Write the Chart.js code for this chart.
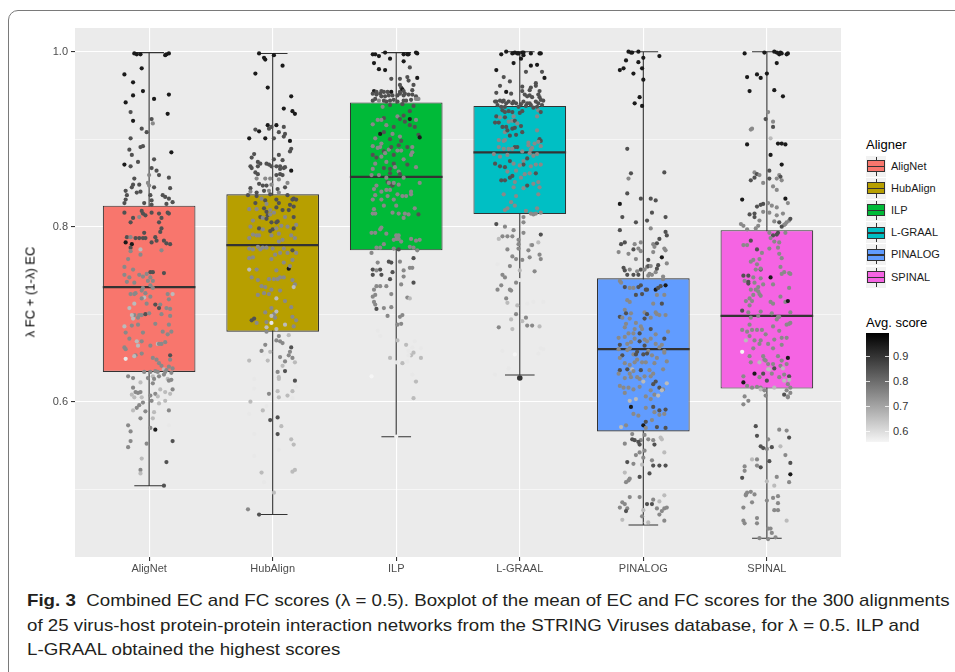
<!DOCTYPE html>
<html>
<head>
<meta charset="utf-8">
<title>Combined EC and FC scores</title>
<script src="https://cdn.jsdelivr.net/npm/chart.js@4.4.0/dist/chart.umd.min.js"></script>
<style>
  html, body { margin: 0; padding: 0; background: #fff; }
  body { width: 955px; height: 672px; position: relative; overflow: hidden; font-family: "Liberation Sans", Arial, sans-serif; }
  #frame { position: absolute; left: 8px; top: 10px; width: 1000px; height: 700px; border: 1.5px solid #7a7a7a; border-radius: 10px; box-sizing: border-box; }
  #chartBox { position: absolute; left: 0; top: 0; width: 845px; height: 580px; }
  #yTitle { position: absolute; left: 30px; top: 292px; transform: translate(-50%, -50%) rotate(-90deg); font-size: 13px; white-space: nowrap; color: #000; }
  .lg-title { position: absolute; left: 866px; font-size: 13px; color: #000; white-space: nowrap; }
  .lg-key { position: absolute; left: 866px; width: 20px; height: 21px; background: #f2f2f2; }
  .lg-key .wh { position: absolute; left: 9.5px; top: 1px; width: 1px; height: 19px; background: #333; }
  .lg-key .bx { position: absolute; left: 1px; top: 4.5px; width: 16px; height: 10px; border: 1px solid #333; }
  .lg-key .md { position: absolute; left: 1px; top: 10px; width: 18px; height: 1.5px; background: #333; }
  .lg-label { position: absolute; left: 891px; font-size: 11px; color: #1a1a1a; white-space: nowrap; line-height: 13px; }
  #colorbar { position: absolute; left: 866px; top: 333px; width: 23px; height: 109px; }
  .cb-tick { position: absolute; width: 4px; height: 1px; background: rgba(255,255,255,0.8); }
  #caption { position: absolute; left: 27px; top: 589px; font-size: 17px; line-height: 24.5px; color: #231f20; }
  #caption div { white-space: nowrap; transform-origin: 0 50%; }
</style>
</head>
<body>
<div id="frame"></div>
<div id="chartBox"><canvas id="myChart"></canvas></div>
<div id="yTitle">λ FC + (1-λ) EC</div>
<div id="legend"></div>
<div id="caption">
  <div id="cap1"><b>Fig. 3</b>&nbsp; Combined EC and FC scores (λ = 0.5). Boxplot of the mean of EC and FC scores for the 300 alignments</div>
  <div id="cap2">of 25 virus-host protein-protein interaction networks from the STRING Viruses database, for λ = 0.5. ILP and</div>
  <div id="cap3">L-GRAAL obtained the highest scores</div>
</div>
<script>
// categories and box statistics
const categories = ["AligNet", "HubAlign", "ILP", "L-GRAAL", "PINALOG", "SPINAL"];
const boxColors = ["#F8766D", "#B79F00", "#00BA38", "#00BFC4", "#619CFF", "#F564E3"];
const whiskerLow = [0.504, 0.471, 0.560, 0.6305, 0.459, 0.444];
const q1 = [0.634, 0.680, 0.773, 0.8145, 0.566, 0.615];
const median = [0.731, 0.779, 0.857, 0.885, 0.660, 0.698];
const q3 = [0.824, 0.837, 0.942, 0.938, 0.741, 0.796];
const whiskerHigh = [0.999, 0.998, 0.999, 1.0, 1.0, 1.0];
const outlierCategory = [4];
const outlierValue = [0.627];

// axis ticks
const yGridValues = [0.5, 0.6, 0.7, 0.8, 0.9, 1.0];
const yTickLabels = [0.6, 0.8, 1.0];
const legendScoreTicks = [0.6, 0.7, 0.8, 0.9];

// jittered points: [jitter offset, value, avg. score]
const pointsAligNet = [
[-0.12,0.998,.95],[-0.10,0.997,.95],[-0.07,0.997,.95],[0.13,0.996,.95],[0.14,0.997,.95],[0.16,0.998,.95],
[-0.20,0.974,.95],[-0.06,0.981,.95],[-0.13,0.965,.95],[-0.05,0.955,.95],[-0.13,0.950,.95],[0.16,0.951,.95],
[-0.19,0.942,.95],[0.04,0.946,.95],[-0.15,0.931,.85],[0.15,0.929,.95],[-0.13,0.921,.95],[0.02,0.923,.85],
[0.03,0.918,.75],[-0.06,0.912,.85],[-0.02,0.908,.85],[-0.15,0.901,.85],[-0.07,0.891,.85],[-0.05,0.892,.85],
[-0.16,0.888,.85],[-0.14,0.882,.85],[0.18,0.885,.95],[0.04,0.877,.85],[-0.20,0.871,.95],[-0.15,0.869,.85],
[-0.09,0.874,.85],[0.02,0.867,.85],[0.06,0.864,.85],[0.08,0.859,.85],[0.16,0.856,.85],[0.00,0.859,.75],
[-0.12,0.855,.85],[-0.13,0.848,.85],[-0.14,0.845,.85],[-0.08,0.848,.85],[-0.01,0.850,.75],[0.00,0.847,.75],
[0.17,0.844,.85],[0.04,0.845,.85],[-0.19,0.841,.85],[-0.18,0.836,.85],[-0.10,0.839,.85],[-0.07,0.840,.85],
[-0.19,0.831,.85],[0.11,0.836,.85],[0.13,0.834,.85],[0.16,0.832,.85],[0.01,0.836,.85],[0.02,0.830,.85],
[-0.20,0.827,.85],[-0.04,0.827,.85],[0.19,0.828,.85],[0.02,0.825,.85],[0.14,0.826,.85],
[-0.20,0.816,.85],[-0.13,0.810,.85],[-0.15,0.805,.85],[-0.06,0.818,.85],[-0.05,0.815,.85],[-0.03,0.813,.85],
[0.02,0.816,.85],[0.08,0.815,.85],[0.15,0.816,.85],[0.16,0.815,.85],[0.10,0.810,.85],[0.08,0.805,.85],
[0.10,0.798,.85],[0.09,0.794,.85],[-0.08,0.811,.75],[-0.18,0.788,.85],[-0.15,0.788,.75],[-0.11,0.787,.85],
[-0.04,0.793,.85],[-0.08,0.787,.85],[-0.05,0.787,.85],[-0.03,0.787,.85],[0.02,0.782,.85],[0.05,0.788,.85],
[0.06,0.784,.85],[0.12,0.784,.85],[0.14,0.781,.85],[0.17,0.780,.85],[-0.19,0.782,.95],[-0.14,0.780,.95],
[-0.15,0.776,.85],[-0.15,0.772,.75],[-0.07,0.768,.75],[0.10,0.773,.75],[-0.07,0.774,.66],[-0.17,0.763,.75],
[-0.20,0.754,.75],[-0.13,0.751,.75],[0.01,0.748,.85],[0.03,0.748,.85],[-0.02,0.746,.75],[-0.05,0.743,.75],
[-0.08,0.745,.75],[-0.16,0.742,.75],[0.12,0.747,.85],[-0.20,0.745,.75],[-0.12,0.736,.75],[-0.01,0.738,.75],
[0.01,0.742,.75],[0.03,0.738,.75],[-0.18,0.737,.75],[0.01,0.733,.75],[-0.05,0.730,.75],[-0.03,0.724,.75],
[0.03,0.730,.75],[-0.06,0.727,.75],[-0.11,0.724,.75],[-0.15,0.723,.75],[-0.12,0.723,.75],[0.15,0.723,.75],
[0.19,0.723,.66],[0.01,0.720,.75],[-0.04,0.719,.66],[-0.06,0.718,.75],[-0.02,0.712,.75],[0.05,0.711,.85],
[0.09,0.711,.75],[-0.16,0.707,.66],[-0.12,0.712,.66],[0.16,0.717,.75],[0.08,0.707,.85],[0.14,0.707,.75],
[0.17,0.706,.75],[-0.12,0.699,.75],[-0.14,0.699,.66],[-0.13,0.695,.66],[-0.09,0.696,.75],[-0.08,0.699,.75],
[-0.06,0.699,.75],[-0.03,0.700,.85],[0.00,0.701,.75],[0.10,0.700,.75],[0.17,0.698,.75],[-0.20,0.686,.66],
[-0.14,0.687,.75],[-0.09,0.688,.75],[0.05,0.689,.75],[0.16,0.688,.75],[0.11,0.680,.75],[0.15,0.677,.75],
[0.18,0.680,.75],[-0.19,0.679,.75],[-0.05,0.679,.75],[-0.16,0.672,.75],[-0.10,0.669,.66],[-0.06,0.669,.75],
[0.01,0.664,.75],[0.07,0.666,.66],[0.08,0.666,.75],[0.10,0.666,.75],[-0.09,0.664,.66],[0.13,0.668,.75],
[-0.20,0.662,.75],[-0.19,0.660,.75],[-0.11,0.653,.75],[-0.06,0.655,.75],[-0.12,0.652,.66],[-0.19,0.649,.58],
[0.03,0.650,.75],[0.06,0.648,.75],[0.17,0.653,.85],[0.17,0.648,.75],[0.08,0.644,.75],[0.10,0.641,.75],
[0.16,0.640,.75],[0.12,0.637,.66],[0.19,0.638,.75],[0.14,0.636,.75],
[-0.04,0.634,.75],[0.01,0.634,.75],[0.05,0.635,.75],[0.07,0.634,.75],[0.13,0.634,.75],[0.18,0.633,.75],
[-0.17,0.629,.75],[-0.13,0.627,.75],[-0.01,0.627,.75],[0.03,0.629,.66],[0.04,0.626,.75],[0.08,0.629,.75],
[0.12,0.631,.75],[0.15,0.626,.66],[0.16,0.624,.75],[0.18,0.625,.75],[-0.07,0.622,.66],[0.03,0.621,.75],
[-0.13,0.616,.75],[0.09,0.614,.66],[0.19,0.614,.75],[-0.11,0.611,.75],[-0.09,0.610,.75],[-0.07,0.611,.75],
[-0.14,0.608,.66],[-0.12,0.605,.66],[-0.06,0.605,.66],[0.01,0.607,.75],[0.05,0.609,.75],[0.07,0.606,.66],
[0.13,0.611,.66],[0.17,0.609,.66],[-0.05,0.599,.75],[0.02,0.601,.75],[0.08,0.598,.66],[0.13,0.601,.66],
[-0.08,0.596,.75],[-0.10,0.593,.75],[-0.03,0.589,.75],[-0.13,0.590,.66],[0.04,0.588,.66],[0.16,0.590,.75],
[-0.07,0.581,.75],[0.03,0.581,.66],[-0.17,0.573,.75],[0.01,0.570,.75],[0.05,0.568,.95],[0.16,0.573,.58],
[-0.15,0.566,.75],[0.19,0.555,.85],[-0.15,0.555,.75],[-0.02,0.552,.75],[-0.17,0.548,.75],[-0.06,0.535,.66],
[0.14,0.531,.85],[-0.07,0.522,.75],[-0.07,0.518,.66],[0.12,0.504,.85]
];
const pointsHubAlign = [
[-0.11,0.998,.95],[-0.07,0.993,.95],[-0.06,0.991,.95],[0.01,0.996,.95],[0.08,0.984,.95],[-0.14,0.975,.95],
[-0.04,0.959,.95],[0.15,0.949,.95],[0.09,0.935,.95],[0.16,0.932,.95],[0.18,0.929,.95],[-0.04,0.916,.95],
[0.03,0.916,.95],[-0.01,0.914,.85],[-0.03,0.912,.85],[-0.14,0.911,.85],[-0.11,0.909,.95],[0.09,0.914,.85],
[0.05,0.908,.85],[0.10,0.906,.85],[0.09,0.903,.85],[-0.19,0.901,.95],[-0.06,0.901,.95],[0.14,0.898,.95],
[0.01,0.901,.85],[0.15,0.889,.85],[0.14,0.886,.85],[-0.15,0.883,.85],[0.05,0.882,.85],[-0.17,0.879,.85],
[0.08,0.876,.85],[0.01,0.877,.85],[-0.12,0.874,.85],[-0.10,0.872,.85],[-0.05,0.872,.85],[-0.03,0.871,.85],
[-0.01,0.869,.85],[-0.18,0.869,.85],[-0.17,0.867,.85],[-0.12,0.869,.85],[0.03,0.869,.85],[0.06,0.869,.85],
[0.10,0.868,.85],[0.06,0.866,.85],[0.09,0.867,.85],[0.15,0.864,.95],[-0.14,0.862,.85],[-0.12,0.860,.85],
[0.03,0.859,.85],[0.06,0.860,.85],[0.08,0.859,.85],[-0.13,0.855,.75],[-0.06,0.855,.75],[-0.02,0.855,.75],
[0.05,0.854,.75],[0.12,0.850,.75],[-0.18,0.844,.85],[-0.11,0.849,.85],[-0.08,0.847,.85],[-0.05,0.847,.85],
[-0.01,0.848,.75],[0.04,0.843,.85],[0.10,0.845,.85],[-0.18,0.840,.75],[-0.13,0.839,.85],[-0.07,0.841,.85],
[-0.03,0.841,.75],[0.05,0.839,.75],
[-0.20,0.836,.85],[-0.13,0.835,.85],[-0.09,0.832,.75],[-0.02,0.837,.85],[0.12,0.836,.85],[0.16,0.831,.85],
[0.17,0.832,.85],[0.19,0.831,.85],[-0.14,0.827,.85],[-0.06,0.830,.85],[-0.05,0.826,.75],[0.03,0.831,.85],
[0.05,0.827,.85],[0.14,0.825,.85],[0.17,0.823,.85],[-0.19,0.820,.75],[-0.13,0.820,.75],[-0.07,0.821,.85],
[-0.05,0.817,.85],[-0.02,0.819,.75],[0.01,0.816,.75],[0.03,0.822,.85],[0.08,0.819,.85],[0.13,0.819,.85],
[-0.04,0.813,.85],[-0.02,0.814,.75],[-0.10,0.811,.85],[-0.08,0.810,.75],[-0.05,0.809,.85],[-0.01,0.805,.85],
[0.03,0.805,.85],[0.04,0.806,.85],[0.07,0.801,.75],[0.10,0.811,.75],[0.17,0.811,.85],[-0.16,0.807,.75],
[0.19,0.802,.75],[-0.18,0.800,.75],[-0.11,0.798,.85],[-0.08,0.797,.75],[-0.02,0.795,.85],[0.00,0.797,.85],
[0.03,0.798,.75],[0.12,0.800,.75],[0.17,0.798,.85],[-0.13,0.790,.75],[-0.16,0.791,.75],[-0.11,0.790,.75],
[-0.01,0.790,.75],[0.05,0.792,.75],[0.15,0.790,.75],[-0.19,0.787,.75],[0.18,0.787,.75],[0.05,0.783,.75],
[0.08,0.785,.75],[-0.12,0.777,.75],[-0.16,0.774,.75],[-0.10,0.774,.75],[0.00,0.775,.75],[-0.19,0.775,.75],
[-0.08,0.776,.75],[-0.05,0.776,.75],[0.02,0.768,.75],[0.06,0.770,.75],[0.09,0.775,.75],[0.12,0.770,.75],
[0.19,0.770,.75],[0.16,0.773,.85],[-0.16,0.765,.75],[-0.19,0.764,.75],[-0.01,0.763,.75],[0.09,0.759,.75],
[0.16,0.762,.75],[0.13,0.752,.95],[0.14,0.755,.75],[-0.19,0.751,.66],[-0.13,0.751,.75],[0.03,0.750,.75],
[-0.17,0.742,.75],[-0.12,0.739,.75],[-0.03,0.740,.75],[0.01,0.740,.75],[0.04,0.740,.75],[0.06,0.742,.75],
[0.09,0.742,.75],[0.16,0.739,.75],[-0.09,0.732,.75],[-0.06,0.731,.75],[0.18,0.734,.75],[0.17,0.731,.66],
[-0.01,0.728,.75],[0.06,0.727,.75],[-0.12,0.722,.75],[-0.07,0.724,.75],[-0.03,0.723,.75],[0.10,0.715,.75],
[0.03,0.718,.66],[-0.06,0.702,.75],[-0.01,0.707,.75],[0.01,0.700,.75],[0.03,0.703,.66],[-0.01,0.698,.66],
[0.02,0.696,.75],[0.15,0.708,.75],[0.16,0.697,.75],[-0.17,0.693,.85],[-0.15,0.695,.85],[-0.13,0.690,.75],
[-0.05,0.691,.75],[-0.01,0.690,.58],[0.10,0.688,.66],[0.19,0.693,.75],[0.17,0.686,.75],[-0.05,0.685,.66],
[-0.05,0.680,.75],[0.03,0.683,.66],[0.13,0.676,.66],[0.05,0.675,.75],[0.03,0.670,.75],[0.06,0.669,.75],
[0.08,0.667,.75],[-0.06,0.665,.75],[0.15,0.662,.85],[-0.09,0.658,.75],[-0.07,0.654,.58],[-0.02,0.657,.66],
[0.14,0.657,.75],[0.13,0.653,.75],[0.16,0.650,.75],[-0.19,0.647,.66],[-0.04,0.647,.66],[0.06,0.651,.75],
[0.10,0.646,.75],[0.18,0.645,.66],[0.08,0.641,.66],[0.04,0.634,.75],[0.10,0.635,.85],[0.18,0.624,.85],
[0.05,0.628,.66],[0.05,0.626,.66],[-0.15,0.626,.58],[-0.15,0.615,.58],[0.19,0.617,.58],[0.04,0.612,.66],
[0.16,0.612,.66],[0.12,0.607,.66],[-0.18,0.600,.66],[-0.03,0.609,.75],[0.05,0.605,.66],[0.16,0.604,.58],
[-0.05,0.595,.58],[-0.08,0.590,.66],[-0.19,0.586,.58],[-0.02,0.579,.85],[0.04,0.582,.85],[0.07,0.572,.66],
[0.04,0.563,.85],[-0.15,0.563,.58],[0.15,0.557,.66],[0.17,0.551,.66],[0.05,0.545,.58],[-0.15,0.538,.58],
[-0.09,0.519,.66],[0.16,0.520,.66],[0.18,0.522,.66],[-0.07,0.508,.58],[0.01,0.496,.66],[-0.20,0.477,.75],
[-0.11,0.471,.85]
];
const pointsILP = [
[-0.19,0.997,.95],[-0.17,0.997,.95],[-0.14,0.995,.95],[-0.09,0.999,.95],[0.06,0.997,.95],[0.09,0.997,.95],
[0.10,0.997,.95],[0.16,0.999,.95],[0.17,0.998,.95],[-0.05,0.992,.95],[0.06,0.989,.95],[-0.18,0.987,.95],
[-0.14,0.980,.95],[-0.09,0.979,.95],[0.11,0.982,.85],[-0.04,0.969,.85],[0.17,0.970,.95],[0.03,0.969,.85],
[0.09,0.971,.85],[0.10,0.967,.85],[0.14,0.962,.85],[0.03,0.962,.85],[0.04,0.959,.85],[0.13,0.956,.85],
[-0.18,0.955,.95],[-0.16,0.954,.85],[-0.12,0.955,.85],[-0.10,0.954,.85],[-0.07,0.954,.85],[-0.04,0.954,.95],
[0.03,0.954,.85],[0.05,0.957,.95],[0.06,0.955,.85],[0.07,0.952,.85],[-0.19,0.952,.85],[-0.16,0.951,.85],
[-0.13,0.952,.85],[-0.12,0.949,.85],[-0.09,0.949,.85],[-0.06,0.950,.85],[-0.03,0.950,.85],[0.01,0.950,.85],
[0.03,0.952,.85],[0.06,0.950,.85],[0.10,0.951,.85],[0.13,0.951,.85],[0.16,0.949,.85],[0.17,0.946,.75],
[-0.19,0.944,.85],[-0.17,0.946,.85],[-0.14,0.944,.75],[-0.10,0.944,.85],[-0.08,0.943,.85],[-0.05,0.944,.85],
[-0.02,0.945,.85],[0.01,0.943,.85],[0.06,0.944,.85],[0.08,0.944,.85],[0.12,0.945,.85],[0.16,0.946,.75],
[0.18,0.946,.75],
[-0.11,0.937,.75],[-0.05,0.939,.85],[0.05,0.940,.85],[0.14,0.938,.85],[0.11,0.932,.85],[0.06,0.927,.85],
[0.01,0.926,.75],[-0.10,0.924,.85],[-0.15,0.922,.75],[-0.19,0.917,.75],[-0.12,0.922,.75],[-0.08,0.916,.75],
[-0.02,0.914,.85],[0.03,0.923,.85],[0.07,0.920,.85],[0.11,0.923,.95],[0.11,0.916,.85],[0.16,0.922,.75],
[0.15,0.914,.85],[-0.03,0.906,.75],[-0.13,0.906,.95],[-0.10,0.908,.85],[-0.05,0.900,.85],[-0.17,0.901,.75],
[0.03,0.903,.75],[0.04,0.898,.85],[0.18,0.905,.85],[0.19,0.902,.95],[-0.12,0.895,.75],[-0.19,0.892,.75],
[-0.15,0.890,.75],[-0.13,0.891,.75],[-0.06,0.888,.75],[-0.04,0.891,.85],[0.02,0.893,.85],[0.09,0.891,.85],
[0.13,0.891,.75],[-0.10,0.886,.85],[0.01,0.887,.75],[0.04,0.887,.75],[0.13,0.885,.75],[-0.19,0.882,.85],
[-0.16,0.879,.85],[-0.12,0.880,.75],[-0.09,0.884,.75],[-0.02,0.882,.85],[0.12,0.882,.75],[0.06,0.877,.75],
[-0.08,0.874,.75],[0.09,0.871,.85],[0.16,0.868,.75],[-0.17,0.872,.75],[-0.02,0.872,.85],[-0.01,0.868,.75],
[-0.05,0.866,.85],[-0.10,0.867,.85],[-0.19,0.866,.75],[0.02,0.863,.75],[-0.05,0.861,.85],[0.03,0.860,.85],
[-0.20,0.859,.75],[-0.14,0.859,.75],[-0.08,0.856,.75],[0.06,0.856,.75],[-0.07,0.851,.85],[-0.05,0.849,.85],
[-0.03,0.847,.85],[-0.06,0.850,.75],[-0.02,0.850,.75],[0.02,0.848,.75],[0.19,0.850,.75],[-0.16,0.847,.75],
[-0.18,0.843,.75],[-0.12,0.840,.75],[-0.08,0.842,.75],[-0.05,0.842,.75],[0.05,0.835,.75],[0.08,0.835,.75],
[0.12,0.840,.75],[0.12,0.837,.75],[-0.17,0.836,.75],[-0.19,0.831,.75],[-0.12,0.831,.75],[-0.07,0.835,.75],
[-0.02,0.831,.75],[0.01,0.837,.75],[-0.10,0.824,.75],[0.00,0.824,.75],[-0.18,0.820,.75],[-0.19,0.815,.75],
[-0.17,0.815,.75],[-0.03,0.816,.75],[0.07,0.815,.75],[0.10,0.814,.75],[0.15,0.821,.75],[0.06,0.810,.75],
[0.18,0.814,.85],[0.02,0.815,.75],[-0.12,0.799,.75],[-0.13,0.797,.75],[-0.20,0.793,.75],[-0.17,0.793,.75],
[-0.08,0.792,.75],[0.00,0.790,.75],[0.02,0.790,.75],[0.02,0.786,.75],[0.00,0.786,.75],[-0.02,0.785,.75],
[0.04,0.783,.75],[0.12,0.786,.75],[0.19,0.785,.75],[0.16,0.784,.75],[-0.10,0.780,.75],[-0.16,0.776,.75],
[-0.13,0.776,.75],[-0.02,0.775,.75],[0.02,0.774,.85],[0.11,0.777,.75],[0.14,0.776,.75],[0.17,0.773,.75],
[-0.20,0.770,.75],[-0.15,0.759,.75],[-0.06,0.760,.85],[-0.04,0.759,.85],[-0.03,0.748,.85],[0.03,0.760,.75],
[0.06,0.750,.75],[0.11,0.753,.75],[0.13,0.753,.75],[0.14,0.764,.85],[-0.19,0.751,.85],[-0.16,0.750,.75],
[-0.13,0.751,.85],[-0.19,0.745,.85],[-0.12,0.745,.85],[-0.05,0.740,.85],[0.06,0.743,.75],[-0.16,0.732,.75],
[-0.13,0.732,.75],[-0.08,0.732,.75],[0.04,0.734,.75],[0.14,0.736,.85],[-0.18,0.728,.75],[-0.17,0.722,.75],
[-0.19,0.720,.75],[-0.04,0.723,.75],[0.09,0.719,.75],[0.11,0.718,.66],[-0.18,0.714,.75],[-0.17,0.711,.75],
[-0.16,0.706,.85],[-0.10,0.707,.75],[-0.04,0.708,.75],[0.03,0.697,.75],[0.05,0.699,.75],[-0.07,0.698,.75],
[0.01,0.688,.75],[0.04,0.689,.75],[-0.15,0.681,.58],[-0.13,0.675,.58],[0.01,0.670,.66],[0.08,0.665,.66],
[0.15,0.669,.58],[0.13,0.662,.58],[0.10,0.658,.58],[0.14,0.656,.66],[0.12,0.653,.66],[0.10,0.653,.58],
[0.20,0.661,.58],[0.20,0.650,.66],[-0.05,0.650,.66],[0.00,0.645,.58],[0.05,0.644,.66],[0.09,0.646,.58],
[-0.20,0.629,.55],[0.13,0.631,.58],[0.15,0.623,.58],[0.16,0.623,.66],[0.14,0.604,.66],[0.00,0.560,.56]
];
const pointsLGRAAL = [
[-0.15,0.997,.95],[-0.11,1.000,.95],[-0.06,0.998,.95],[-0.04,0.999,.95],[-0.02,0.998,.95],[-0.01,0.998,.95],
[0.02,0.999,.95],[0.03,0.999,.95],[0.03,0.996,.95],[0.09,0.998,.95],[0.16,0.998,.95],[0.17,0.998,.95],
[0.01,0.992,.95],[-0.05,0.987,.95],[0.09,0.984,.95],[0.14,0.985,.95],[0.18,0.977,.85],[-0.19,0.979,.95],
[0.05,0.977,.85],[-0.13,0.971,.85],[-0.08,0.966,.85],[0.20,0.970,.95],[0.13,0.964,.85],[0.13,0.961,.85],
[-0.16,0.961,.85],[0.02,0.960,.85],[0.09,0.959,.85],[0.16,0.955,.85],[-0.19,0.953,.85],[-0.11,0.954,.95],
[-0.07,0.952,.85],[0.02,0.955,.85],[0.08,0.956,.85],[0.04,0.951,.85],[0.06,0.949,.85],[0.08,0.950,.85],
[0.10,0.948,.85],[0.15,0.951,.85],[0.16,0.948,.85],[-0.20,0.943,.85],[-0.19,0.943,.85],[-0.16,0.944,.85],
[-0.14,0.943,.85],[-0.13,0.944,.85],[-0.11,0.941,.85],[-0.09,0.943,.85],[-0.06,0.941,.85],[-0.05,0.943,.85],
[-0.03,0.941,.85],[0.01,0.940,.85],[0.03,0.943,.85],[0.06,0.941,.85],[0.08,0.941,.85],[0.09,0.939,.85],
[0.13,0.943,.85],[0.15,0.941,.85],[0.17,0.945,.85],[0.19,0.944,.85],[-0.18,0.939,.85],[-0.15,0.937,.85],
[-0.12,0.937,.85],[-0.01,0.937,.85],[0.05,0.938,.85],[0.11,0.936,.85],[0.14,0.937,.85],[0.18,0.939,.85],
[-0.14,0.933,.85],[-0.12,0.931,.85],[-0.09,0.932,.85],[-0.06,0.931,.85],[0.00,0.930,.85],[0.02,0.932,.85],
[0.15,0.933,.75],[0.17,0.931,.85],[-0.19,0.926,.85],[-0.16,0.925,.75],[-0.12,0.925,.85],[-0.05,0.926,.75],
[0.14,0.926,.75],[-0.20,0.919,.85],[-0.17,0.919,.85],[-0.09,0.920,.75],[-0.06,0.921,.75],[-0.04,0.921,.85],
[-0.02,0.918,.75],[-0.14,0.914,.85],[-0.11,0.914,.85],[-0.06,0.912,.85],[-0.04,0.913,.85],[0.01,0.915,.85],
[-0.12,0.908,.75],[-0.10,0.910,.85],[0.02,0.908,.85],[0.14,0.910,.75],[-0.08,0.904,.85],[-0.03,0.905,.85],
[0.16,0.900,.85],[0.17,0.898,.85],[-0.17,0.899,.75],[-0.13,0.898,.75],[-0.12,0.899,.75],[0.15,0.897,.75],
[0.07,0.896,.75],[0.12,0.895,.75],[-0.17,0.891,.75],[-0.04,0.891,.85],[-0.02,0.891,.85],[0.07,0.893,.75],
[0.10,0.890,.75],[0.17,0.892,.75],[-0.13,0.889,.75],[-0.09,0.889,.75],[-0.06,0.889,.75],[0.09,0.888,.75],
[0.02,0.886,.75],[-0.21,0.883,.75],[-0.16,0.880,.75],[-0.10,0.882,.75],[0.08,0.884,.75],[0.11,0.881,.75],
[0.14,0.883,.75],[0.03,0.875,.75],[0.06,0.878,.85],[-0.08,0.875,.85],[-0.05,0.872,.75],[0.03,0.871,.85],
[-0.20,0.872,.85],[-0.16,0.869,.85],[0.13,0.871,.75],[-0.12,0.868,.85],[0.00,0.870,.75],[0.09,0.869,.75],
[0.17,0.871,.75],[-0.03,0.864,.75],[-0.10,0.863,.75],[-0.06,0.858,.85],[0.04,0.860,.75],[0.08,0.861,.75],
[0.13,0.861,.85],[-0.15,0.853,.85],[-0.12,0.853,.85],[-0.08,0.856,.85],[0.01,0.856,.75],[-0.04,0.851,.75],
[0.11,0.849,.75],[0.06,0.847,.85],[0.15,0.851,.75],[-0.05,0.845,.75],[0.03,0.844,.75],[0.16,0.845,.75],
[-0.13,0.837,.75],[-0.03,0.835,.75],[0.15,0.837,.75],[-0.07,0.828,.75],[-0.04,0.824,.75],[-0.10,0.821,.75],
[-0.12,0.819,.75],[0.14,0.821,.75],[0.05,0.818,.75],[0.09,0.815,.75],[0.11,0.814,.75],[0.13,0.815,.75],
[0.17,0.816,.75],
[0.03,0.811,.75],[0.03,0.805,.75],[-0.19,0.803,.85],[-0.12,0.800,.75],[-0.05,0.796,.75],[0.03,0.793,.75],
[0.17,0.791,.85],[-0.17,0.786,.66],[-0.14,0.789,.75],[-0.10,0.789,.75],[-0.06,0.789,.75],[-0.01,0.785,.75],
[-0.01,0.780,.75],[0.09,0.779,.66],[0.10,0.779,.75],[0.15,0.782,.66],[0.07,0.773,.75],[-0.10,0.774,.75],
[-0.01,0.775,.75],[-0.06,0.766,.75],[-0.03,0.763,.75],[0.08,0.765,.75],[0.16,0.768,.75],[0.17,0.763,.75],
[0.02,0.762,.75],[-0.18,0.757,.58],[-0.08,0.755,.75],[0.00,0.750,.66],[0.12,0.749,.75],[-0.14,0.745,.75],
[-0.12,0.742,.75],[-0.03,0.736,.75],[0.00,0.739,.58],[-0.15,0.733,.75],[-0.18,0.728,.75],[-0.08,0.728,.75],
[-0.07,0.727,.75],[-0.11,0.718,.75],[-0.10,0.713,.66],[0.06,0.712,.58],[0.11,0.714,.58],[0.19,0.714,.58],
[-0.02,0.710,.66],[0.05,0.696,.75],[-0.03,0.700,.75],[-0.07,0.694,.66],[0.02,0.692,.66],[0.06,0.687,.75],
[0.10,0.687,.75],[0.16,0.686,.66],[-0.17,0.685,.75],[-0.06,0.683,.66],[-0.14,0.658,.58],[-0.04,0.654,.55],
[0.17,0.661,.58],[0.19,0.660,.58],[0.15,0.655,.58],[-0.09,0.638,.58],[-0.20,0.631,.58]
];
const pointsPINALOG = [
[-0.12,1.000,.95],[-0.10,0.999,.95],[-0.09,0.999,.95],[-0.04,1.000,.95],[0.13,0.995,.95],[0.00,0.993,.95],
[-0.14,0.990,.95],[-0.04,0.988,.95],[-0.19,0.979,.95],[-0.16,0.981,.95],[-0.01,0.981,.95],[-0.08,0.975,.95],
[0.00,0.968,.95],[-0.03,0.948,.95],[-0.07,0.941,.95],[-0.01,0.938,.95],[-0.13,0.889,.85],[-0.10,0.861,.85],
[-0.12,0.855,.75],[0.17,0.862,.85],[-0.13,0.838,.85],[-0.02,0.832,.85],[0.06,0.832,.85],[0.10,0.830,.85],
[-0.19,0.826,.95],[-0.17,0.811,.85],[0.07,0.816,.85],[0.18,0.811,.85],[-0.06,0.805,.85],[0.03,0.807,.85],
[0.06,0.798,.75],[-0.19,0.796,.85],[0.18,0.794,.85],[0.19,0.790,.85],[0.13,0.786,.85],[-0.18,0.780,.85],
[-0.15,0.782,.85],[-0.12,0.769,.75],[-0.08,0.774,.85],[-0.07,0.780,.75],[-0.04,0.775,.75],[-0.02,0.782,.75],
[-0.02,0.772,.75],[0.08,0.780,.75],[0.09,0.777,.75],[0.11,0.781,.85],[-0.20,0.771,.75],[0.17,0.775,.75],
[0.18,0.773,.75],[0.08,0.771,.75],[0.15,0.765,.95],[-0.06,0.763,.75],[0.04,0.762,.85],[0.12,0.756,.85],
[0.19,0.758,.75],[-0.16,0.753,.85],[-0.15,0.750,.85],[-0.11,0.751,.75],[-0.05,0.749,.75],[-0.02,0.751,.85],
[0.01,0.751,.75],[0.03,0.754,.75],[0.04,0.755,.85],[0.06,0.755,.75],[0.10,0.748,.75],[0.11,0.752,.85],
[-0.13,0.745,.85],[-0.08,0.745,.85],[-0.04,0.745,.85],[0.04,0.744,.75],[0.05,0.746,.75],[0.07,0.745,.75],
[0.16,0.743,.75],[0.16,0.740,.75],
[-0.19,0.738,.75],[-0.18,0.736,.75],[-0.15,0.731,.85],[-0.11,0.730,.75],[-0.08,0.730,.75],[-0.04,0.731,.85],
[-0.02,0.733,.85],[0.02,0.728,.85],[0.03,0.728,.85],[0.10,0.728,.95],[0.12,0.730,.85],[0.14,0.732,.85],
[0.18,0.733,.95],[-0.06,0.722,.85],[-0.01,0.723,.85],[0.11,0.722,.75],[0.17,0.722,.75],[-0.13,0.716,.75],
[-0.11,0.714,.75],[0.08,0.712,.75],[0.15,0.712,.85],[-0.15,0.705,.75],[-0.14,0.701,.85],[-0.10,0.701,.75],
[0.01,0.702,.75],[0.10,0.702,.75],[0.03,0.700,.85],[0.11,0.700,.75],[0.13,0.699,.75],[0.18,0.699,.75],
[-0.19,0.697,.85],[-0.17,0.696,.75],[-0.11,0.695,.75],[0.01,0.695,.85],[0.06,0.696,.75],[-0.14,0.689,.75],
[-0.06,0.690,.75],[-0.02,0.686,.75],[-0.15,0.685,.75],[-0.07,0.683,.75],[-0.01,0.683,.75],[0.06,0.683,.85],
[-0.12,0.678,.75],[-0.08,0.678,.75],[-0.03,0.678,.85],[0.10,0.677,.75],[0.20,0.680,.75],[-0.20,0.673,.75],
[-0.15,0.674,.75],[-0.07,0.672,.75],[0.01,0.671,.75],[0.06,0.672,.75],[0.17,0.672,.85],[-0.19,0.665,.85],
[-0.13,0.666,.75],[-0.10,0.668,.75],[-0.03,0.669,.85],[0.03,0.669,.75],[0.10,0.666,.75],[0.15,0.665,.75],
[-0.11,0.661,.75],[0.01,0.664,.85],[0.13,0.662,.75],[-0.20,0.660,.75],[-0.13,0.659,.75],[-0.05,0.657,.85],
[0.04,0.658,.75],[0.17,0.658,.75],[0.17,0.656,.75],[-0.17,0.653,.85],[-0.08,0.654,.75],[-0.06,0.654,.85],
[0.00,0.654,.85],[0.03,0.655,.85],[0.07,0.653,.75],[0.11,0.650,.75],[-0.19,0.650,.75],[-0.05,0.648,.75],
[-0.01,0.645,.75],[0.02,0.645,.75],[0.09,0.644,.75],[0.19,0.646,.75],[-0.15,0.644,.75],[-0.11,0.642,.75],
[-0.07,0.645,.75],[-0.19,0.636,.85],[-0.13,0.637,.85],[-0.09,0.637,.66],[-0.08,0.635,.75],[-0.02,0.636,.85],
[0.05,0.636,.75],[0.16,0.637,.75],[-0.20,0.632,.75],[-0.11,0.632,.75],[0.08,0.632,.75],[-0.15,0.627,.75],
[-0.10,0.628,.75],[-0.05,0.628,.75],[0.01,0.629,.75],[0.06,0.629,.75],[-0.03,0.626,.75],[0.10,0.623,.85],
[0.00,0.623,.66],[0.08,0.620,.85],[0.19,0.621,.66],[-0.19,0.618,.75],[-0.16,0.616,.75],[-0.12,0.616,.75],
[-0.08,0.614,.75],[-0.03,0.617,.75],[0.06,0.613,.75],[0.13,0.616,.85],[0.16,0.614,.75],[0.15,0.613,.66],
[-0.15,0.610,.75],[-0.06,0.603,.66],[-0.11,0.601,.66],[0.02,0.606,.75],[0.09,0.608,.75],[0.12,0.607,.66],
[0.06,0.603,.75],[-0.10,0.594,.95],[0.02,0.593,.75],[0.08,0.594,.85],[0.13,0.590,.85],[0.18,0.591,.85],
[0.09,0.588,.75],[0.13,0.585,.75],[0.17,0.586,.75],[-0.04,0.584,.75],[-0.08,0.586,.75],[0.07,0.579,.75],
[0.02,0.577,.85],[0.00,0.573,.95],[-0.14,0.573,.75],[-0.18,0.571,.66],[0.11,0.571,.85],[0.18,0.570,.85],
[0.02,0.570,.75],
[-0.09,0.563,.75],[0.01,0.562,.75],[-0.09,0.557,.85],[-0.07,0.556,.85],[-0.02,0.556,.75],[0.04,0.557,.75],
[0.08,0.556,.75],[0.14,0.559,.66],[0.15,0.557,.66],[-0.15,0.552,.75],[-0.04,0.554,.85],[-0.03,0.551,.85],
[0.09,0.551,.85],[-0.03,0.542,.75],[0.01,0.544,.75],[0.17,0.542,.66],[-0.06,0.539,.75],[0.00,0.536,.75],
[0.07,0.533,.75],[-0.13,0.531,.85],[-0.08,0.529,.75],[-0.01,0.528,.66],[0.08,0.527,.85],[0.13,0.527,.85],
[0.18,0.527,.85],[-0.15,0.519,.66],[0.05,0.518,.85],[-0.11,0.512,.75],[-0.12,0.510,.75],[-0.14,0.508,.75],
[-0.03,0.514,.85],[-0.03,0.491,.75],[-0.11,0.491,.75],[0.17,0.493,.66],[-0.17,0.485,.75],[-0.15,0.483,.75],
[0.03,0.483,.85],[0.07,0.483,.85],[0.08,0.488,.75],[0.13,0.486,.66],[-0.19,0.479,.75],[-0.13,0.478,.75],
[0.11,0.478,.75],[0.17,0.478,.75],[0.19,0.479,.75],[-0.14,0.475,.85],[0.00,0.476,.66],[0.15,0.475,.75],
[0.13,0.471,.75],[-0.01,0.469,.75],[-0.17,0.465,.66],[0.17,0.464,.75],[0.02,0.462,.58],[0.04,0.462,.66]
];
const pointsSPINAL = [
[-0.18,0.998,.95],[-0.02,0.999,.95],[0.06,1.000,.95],[0.08,0.999,.95],[0.10,0.997,.95],[0.11,0.999,.95],
[0.12,0.998,.95],[0.16,0.997,.95],[0.17,0.998,.95],[0.08,0.987,.95],[-0.16,0.971,.95],[-0.08,0.974,.95],
[-0.05,0.970,.95],[0.00,0.975,.95],[-0.14,0.955,.95],[0.06,0.956,.95],[0.13,0.949,.95],[0.01,0.931,.75],
[-0.01,0.923,.85],[0.05,0.920,.75],[0.05,0.914,.85],[-0.13,0.911,.75],[-0.12,0.912,.75],[0.03,0.901,.66],
[-0.16,0.894,.95],[0.09,0.895,.95],[0.12,0.895,.95],[0.15,0.894,.95],[0.03,0.882,.95],[0.12,0.871,.95],
[0.02,0.864,.85],[-0.10,0.862,.75],[-0.08,0.860,.85],[-0.06,0.859,.75],[0.10,0.859,.75],[0.11,0.857,.85],
[-0.13,0.853,.85],[-0.10,0.856,.85],[0.02,0.855,.85],[0.08,0.855,.75],[0.12,0.853,.75],[-0.03,0.850,.75],
[0.05,0.846,.75],[0.08,0.842,.75],[-0.20,0.831,.95],[0.15,0.832,.95],[0.17,0.827,.75],[-0.03,0.826,.85],
[-0.08,0.823,.85],[-0.05,0.825,.85],[0.01,0.827,.75],[0.04,0.824,.75],[0.08,0.822,.75],[-0.10,0.815,.85],
[-0.14,0.814,.85],[-0.10,0.811,.85],[-0.03,0.817,.75],[0.02,0.816,.75],[0.08,0.813,.75],[0.13,0.815,.75],
[0.10,0.805,.85],[0.18,0.807,.75],[0.16,0.805,.75],[-0.06,0.807,.75],[0.19,0.809,.85],[0.14,0.802,.75],
[-0.21,0.803,.75],[-0.19,0.801,.75],[-0.07,0.801,.75],[0.06,0.806,.75],[-0.09,0.798,.75],[0.12,0.800,.85],
[0.15,0.803,.75],[-0.16,0.797,.75],
[0.02,0.793,.75],[0.09,0.793,.85],[0.15,0.793,.75],[0.05,0.790,.85],[0.08,0.791,.85],[0.03,0.787,.75],
[-0.13,0.784,.85],[-0.19,0.779,.75],[-0.16,0.779,.75],[0.06,0.783,.75],[0.10,0.782,.75],[-0.08,0.774,.85],
[0.02,0.775,.75],[0.09,0.776,.75],[-0.04,0.770,.75],[0.10,0.769,.75],[-0.11,0.762,.75],[-0.06,0.763,.75],
[-0.13,0.760,.75],[0.12,0.764,.75],[-0.08,0.757,.75],[-0.09,0.751,.75],[-0.05,0.751,.85],[-0.05,0.752,.75],
[0.11,0.754,.75],[0.14,0.748,.75],[0.18,0.747,.75],[0.19,0.746,.75],[-0.19,0.744,.85],[-0.15,0.744,.85],
[-0.11,0.742,.75],[-0.05,0.741,.75],[0.03,0.742,.95],[0.12,0.746,.75],[-0.18,0.738,.75],[-0.15,0.737,.85],
[-0.15,0.735,.85],[-0.10,0.736,.75],[-0.07,0.731,.75],[-0.03,0.734,.75],[0.05,0.734,.75],[-0.09,0.728,.75],
[-0.07,0.726,.75],[-0.06,0.723,.75],[-0.05,0.721,.75],[-0.14,0.718,.75],[-0.11,0.722,.75],[-0.13,0.728,.75],
[0.11,0.720,.75],[0.18,0.730,.75],[-0.17,0.715,.75],[-0.12,0.715,.75],[0.03,0.714,.75],[0.05,0.712,.75],
[0.15,0.714,.75],[0.17,0.715,.95],[-0.14,0.710,.75],[-0.20,0.704,.85],[-0.15,0.702,.75],[-0.05,0.703,.75],
[-0.13,0.696,.75],[-0.07,0.698,.75],[0.04,0.701,.75],[0.09,0.697,.75],[0.08,0.694,.75],[0.10,0.697,.75],
[0.19,0.702,.75],[-0.14,0.688,.75],[0.16,0.688,.75],[0.19,0.690,.75],[0.18,0.689,.75],[0.05,0.686,.75],
[-0.20,0.682,.75],[-0.16,0.680,.75],[-0.12,0.682,.75],[-0.08,0.682,.75],[-0.04,0.682,.75],[0.10,0.681,.75],
[-0.01,0.677,.75],[-0.14,0.675,.75],[-0.10,0.670,.75],[-0.05,0.670,.75],[-0.17,0.670,.66],[0.06,0.671,.75],
[0.12,0.673,.75],[0.16,0.673,.75],[-0.06,0.666,.75],[0.01,0.666,.75],[0.12,0.665,.75],[-0.11,0.661,.75],
[0.05,0.661,.75],[-0.20,0.657,.55],[-0.14,0.652,.75],[-0.03,0.652,.75],[0.09,0.652,.75],[-0.02,0.648,.75],
[-0.01,0.647,.75],[0.12,0.647,.75],[0.17,0.650,.95],[-0.06,0.645,.66],[-0.13,0.645,.75],[0.01,0.643,.75],
[0.05,0.643,.75],[0.06,0.638,.85],[0.11,0.641,.75],[0.16,0.643,.75],[0.01,0.637,.66],[0.02,0.637,.66],
[0.13,0.638,.66],[-0.10,0.632,.95],[-0.03,0.632,.85],[0.04,0.632,.75],[0.14,0.631,.75],[-0.19,0.629,.75],
[-0.06,0.628,.75],[0.10,0.628,.75],[0.18,0.629,.85],[0.18,0.625,.66],[0.14,0.624,.66],[0.00,0.624,.85],
[-0.19,0.622,.95],[0.17,0.620,.75],[0.19,0.616,.75],[-0.16,0.618,.75],[-0.12,0.616,.75],[-0.08,0.617,.75],
[-0.05,0.616,.75],[0.06,0.616,.66],
[-0.05,0.614,.66],[-0.02,0.613,.75],[0.16,0.613,.75],[-0.01,0.607,.75],[0.19,0.610,.75],[0.14,0.608,.85],
[0.17,0.606,.75],[0.17,0.605,.75],[-0.18,0.606,.75],[-0.15,0.601,.75],[-0.19,0.597,.75],[-0.09,0.572,.85],
[0.10,0.568,.75],[0.16,0.567,.75],[-0.08,0.561,.85],[0.18,0.559,.85],[0.01,0.557,.75],[-0.05,0.549,.85],
[-0.03,0.547,.85],[0.04,0.548,.85],[0.00,0.546,.75],[0.11,0.549,.66],[0.15,0.539,.75],[-0.12,0.534,.66],
[-0.08,0.534,.75],[0.02,0.532,.85],[0.19,0.530,.85],[-0.18,0.526,.75],[-0.18,0.521,.75],[-0.08,0.527,.75],
[-0.05,0.525,.85],[-0.20,0.513,.85],[0.08,0.514,.75],[0.19,0.517,.95],[0.00,0.509,.66],[0.06,0.504,.66],
[0.18,0.508,.75],[-0.13,0.497,.75],[-0.16,0.496,.75],[-0.17,0.493,.75],[-0.17,0.494,.75],[-0.10,0.494,.75],
[-0.12,0.485,.75],[0.00,0.487,.75],[0.09,0.492,.75],[0.05,0.490,.75],[-0.19,0.479,.75],[0.09,0.484,.75],
[0.09,0.476,.75],[0.06,0.476,.75],[0.16,0.464,.66],[-0.19,0.464,.75],[-0.18,0.461,.75],[-0.08,0.461,.75],
[-0.08,0.467,.75],[0.03,0.455,.75],[0.01,0.455,.75],[0.04,0.450,.75],[0.07,0.445,.75],[-0.06,0.444,.75],
[0.01,0.443,.75]
];
const jitterPoints = [pointsAligNet, pointsHubAlign, pointsILP, pointsLGRAAL, pointsPINALOG, pointsSPINAL];

// grey gradient used for "Avg. score"
const scoreLow = 0.556, scoreHigh = 0.996;
function scoreGray(s) {
  var t = Math.min(1, Math.max(0, (s - scoreLow) / (scoreHigh - scoreLow)));
  var v = Math.round(245 * (1 - t));
  return "rgb(" + v + "," + v + "," + v + ")";
}

var tickFont = { family: "'Liberation Sans', Arial, sans-serif", size: 11 };
var capHalf = 0.12;

var pointData = [];
var pointColors = [];
for (var i = 0; i < jitterPoints.length; i++) {
  for (var j = 0; j < jitterPoints[i].length; j++) {
    var p = jitterPoints[i][j];
    pointData.push({ x: i + 1 + p[0], y: p[1] });
    pointColors.push(scoreGray(p[2]));
  }
}

// panel background, whiskers and medians
var boxParts = {
  id: "boxParts",
  beforeDraw: function (chart) {
    var a = chart.chartArea;
    var ctx = chart.ctx;
    ctx.save();
    ctx.fillStyle = "#EBEBEB";
    ctx.fillRect(a.left, a.top, a.right - a.left, a.bottom - a.top);
    ctx.restore();
  },
  beforeDatasetsDraw: function (chart) {
    var ctx = chart.ctx;
    var xs = chart.scales.x, ys = chart.scales.y;
    ctx.save();
    ctx.strokeStyle = "#333333";
    ctx.lineWidth = 1.1;
    for (var i = 0; i < categories.length; i++) {
      var x = xs.getPixelForValue(i + 1);
      var xl = xs.getPixelForValue(i + 1 - capHalf);
      var xr = xs.getPixelForValue(i + 1 + capHalf);
      var yl = ys.getPixelForValue(whiskerLow[i]);
      var yh = ys.getPixelForValue(whiskerHigh[i]);
      ctx.beginPath();
      ctx.moveTo(x, yl); ctx.lineTo(x, yh);
      ctx.moveTo(xl, yl); ctx.lineTo(xr, yl);
      ctx.moveTo(xl, yh); ctx.lineTo(xr, yh);
      ctx.stroke();
    }
    ctx.restore();
  },
  afterDatasetDraw: function (chart, args) {
    if (args.index !== 0) return;
    var ctx = chart.ctx;
    var ys = chart.scales.y;
    var bars = chart.getDatasetMeta(0).data;
    ctx.save();
    ctx.strokeStyle = "#333333";
    ctx.lineWidth = 2.3;
    for (var i = 0; i < bars.length; i++) {
      var y = ys.getPixelForValue(median[i]);
      ctx.beginPath();
      ctx.moveTo(bars[i].x - bars[i].width / 2, y);
      ctx.lineTo(bars[i].x + bars[i].width / 2, y);
      ctx.stroke();
    }
    ctx.restore();
  }
};

function isLabelled(v) {
  return yTickLabels.some(function (t) { return Math.abs(t - v) < 1e-9; });
}

var config = {
  type: "bar",
  data: {
    datasets: [
      {
        type: "bar",
        data: categories.map(function (c, i) { return { x: i + 1, y: [q1[i], q3[i]] }; }),
        backgroundColor: boxColors,
        borderColor: "#333333",
        borderWidth: 1.1,
        borderSkipped: false,
        barPercentage: 0.75,
        categoryPercentage: 1,
        order: 3
      },
      {
        type: "scatter",
        data: outlierCategory.map(function (c, k) { return { x: c, y: outlierValue[k] }; }),
        pointBackgroundColor: "#333333",
        pointBorderWidth: 0,
        pointRadius: 2.8,
        order: 2
      },
      {
        type: "scatter",
        data: pointData,
        pointBackgroundColor: pointColors,
        pointBorderWidth: 0,
        pointRadius: 2.1,
        order: 1
      }
    ]
  },
  options: {
    responsive: true,
    maintainAspectRatio: false,
    animation: false,
    devicePixelRatio: 1,
    layout: { padding: { top: 28, right: 2, left: 0, bottom: 0 } },
    plugins: { legend: { display: false }, tooltip: { enabled: false } },
    scales: {
      x: {
        type: "linear",
        min: 0.4,
        max: 6.6,
        offset: false,
        afterBuildTicks: function (s) {
          s.ticks = categories.map(function (c, i) { return { value: i + 1 }; });
        },
        afterFit: function (s) { s.height = 23; },
        grid: { color: "#FFFFFF", lineWidth: 1.1, tickColor: "#333333", tickLength: 4, tickWidth: 1.1, offset: false },
        border: { display: false },
        ticks: {
          autoSkip: false, maxRotation: 0, padding: 1, color: "#4D4D4D", font: tickFont,
          callback: function (v) { return categories[Math.round(v) - 1]; }
        }
      },
      y: {
        type: "linear",
        min: 0.4225,
        max: 1.0271,
        afterBuildTicks: function (s) {
          s.ticks = yGridValues.map(function (v) { return { value: v }; });
        },
        afterFit: function (s) { s.width = 75; },
        grid: {
          color: "#FFFFFF",
          lineWidth: function (c) { return c.tick && isLabelled(c.tick.value) ? 1.1 : 0.55; },
          tickColor: function (c) { return c.tick && isLabelled(c.tick.value) ? "#333333" : "rgba(0,0,0,0)"; },
          tickLength: 4,
          tickWidth: 1.1
        },
        border: { display: false },
        ticks: {
          autoSkip: false, padding: 3, color: "#4D4D4D", font: tickFont,
          callback: function (v) { return isLabelled(v) ? v.toFixed(1) : ""; }
        }
      }
    }
  },
  plugins: [boxParts]
};

var myChart = new Chart(document.getElementById("myChart"), config);

// legend
var legend = document.getElementById("legend");
function addEl(cls, style, text) {
  var d = document.createElement("div");
  d.className = cls;
  d.setAttribute("style", style);
  if (text !== undefined) d.textContent = text;
  legend.appendChild(d);
  return d;
}
addEl("lg-title", "top:137px;", "Aligner");
for (var k = 0; k < categories.length; k++) {
  var cy = 166 + k * 22.2;
  var key = addEl("lg-key", "top:" + (cy - 10.5) + "px;");
  key.innerHTML = '<div class="wh"></div><div class="bx" style="background:' + boxColors[k] + '"></div><div class="md"></div>';
  addEl("lg-label", "top:" + (cy - 6.5) + "px;", categories[k]);
}
addEl("lg-title", "top:315px;", "Avg. score");
var cbTop = 333, cbHeight = 109;
var cb = addEl("", "position:absolute;left:866px;top:" + cbTop + "px;width:23px;height:" + cbHeight + "px;background:linear-gradient(to top," + scoreGray(scoreLow) + "," + scoreGray(scoreHigh) + ");");
cb.id = "colorbar";
for (var t = 0; t < legendScoreTicks.length; t++) {
  var ty = cbTop + (scoreHigh - legendScoreTicks[t]) / (scoreHigh - scoreLow) * cbHeight;
  addEl("cb-tick", "left:866px;top:" + (ty - 0.5) + "px;");
  addEl("cb-tick", "left:885px;top:" + (ty - 0.5) + "px;");
  addEl("lg-label", "left:893px;top:" + (ty - 6.5) + "px;color:#333;", legendScoreTicks[t].toFixed(1));
}

// fit caption lines to the reference width
var cap1 = document.getElementById("cap1");
var ratio = 923 / cap1.scrollWidth;
["cap1", "cap2", "cap3"].forEach(function (id) {
  document.getElementById(id).style.transform = "scaleX(" + ratio + ")";
});
</script>
</body>
</html>
